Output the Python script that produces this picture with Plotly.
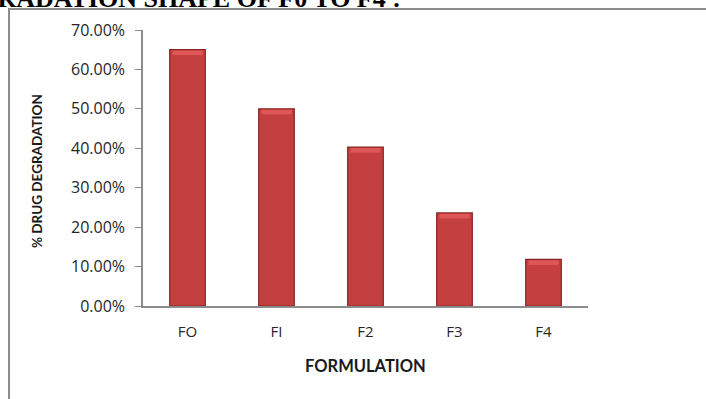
import plotly.graph_objects as go

# Drug degradation per formulation
formulations = ["FO", "FI", "F2", "F3", "F4"]
degradation = [0.65, 0.50, 0.403, 0.236, 0.118]
y_ticks = [0.0, 0.1, 0.2, 0.3, 0.4, 0.5, 0.6, 0.7]
y_tick_text = ["0.00%", "10.00%", "20.00%", "30.00%", "40.00%", "50.00%", "60.00%", "70.00%"]

W, H = 706, 399
L, R, T, B = 143, 118, 30, 93
pw, ph = W - L - R, H - T - B

fig = go.Figure()
fig.add_trace(go.Bar(
    x=formulations, y=degradation, width=0.4,
    marker=dict(color="#C43F3F", line=dict(color="#862424", width=1.2)),
    hoverinfo="x+y",
))
# light bevel along the top of each bar
cap = 0.012
fig.add_trace(go.Bar(
    x=formulations, y=[cap] * len(degradation),
    base=[v - cap - 0.002 for v in degradation], width=0.34,
    marker=dict(color="#DE5656", line=dict(width=0)),
    hoverinfo="skip",
))

# chart frame (only the top and left edges fall inside the page)
def px_x(p):
    return (p - L) / pw

def px_y(p):
    return (H - B - p) / ph

fig.add_shape(type="rect", xref="paper", yref="paper",
              x0=px_x(9), x1=px_x(740), y0=px_y(9), y1=px_y(440),
              line=dict(color="#8C8C8C", width=2), fillcolor="rgba(0,0,0,0)", layer="below")

fig.add_annotation(text="% DRUG DEGRADATION", xref="paper", yref="paper",
                   x=px_x(37), y=px_y(171), textangle=-90, showarrow=False,
                   font=dict(family="Lato", size=13.5, color="#1a1a1a", weight="bold"),
                   xanchor="center", yanchor="middle")
fig.add_annotation(text="FORMULATION", xref="paper", yref="paper",
                   x=px_x(365), y=px_y(366), showarrow=False,
                   font=dict(family="Lato", size=16.5, color="#1a1a1a", weight="bold"),
                   xanchor="center", yanchor="middle")
fig.add_annotation(text="DRUG DEGRADATION SHAPE OF F0 TO F4 :", xref="paper", yref="paper",
                   x=px_x(403), y=px_y(15), showarrow=False,
                   font=dict(family="Liberation Serif", size=26, color="#000000", weight="bold"),
                   xanchor="right", yanchor="bottom")

fig.update_layout(
    width=W, height=H,
    margin=dict(l=L, r=R, t=T, b=B),
    paper_bgcolor="white", plot_bgcolor="white",
    showlegend=False, barmode="overlay",
    xaxis=dict(showline=True, linecolor="#8C8C8C", linewidth=1.5, ticks="",
               tickfont=dict(family="Open Sans", size=15, color="#262626"),
               ticklabelstandoff=11,
               showgrid=False, zeroline=False),
    yaxis=dict(range=[0, 0.7], tickvals=y_ticks, ticktext=y_tick_text,
               showline=True, linecolor="#8C8C8C", linewidth=1.5,
               ticks="outside", ticklen=6, tickcolor="#8C8C8C", tickwidth=1,
               tickfont=dict(family="Open Sans", size=16, color="#262626"),
               ticklabelstandoff=7,
               showgrid=False, zeroline=False),
)

fig.write_html("out.html")
